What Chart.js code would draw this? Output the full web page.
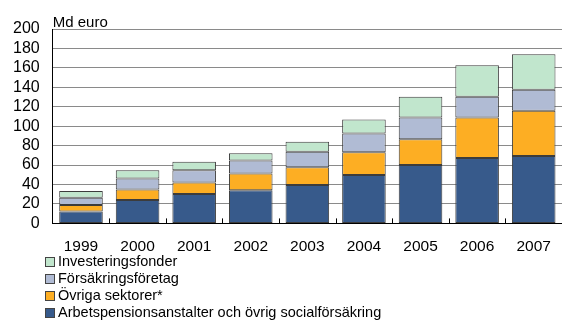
<!DOCTYPE html>
<html lang="sv">
<head>
<meta charset="UTF-8">
<title>Md euro</title>
<script src="https://cdn.jsdelivr.net/npm/chart.js"></script>
<style>
  body { margin: 0; background: #fff; font-family: "Liberation Sans", Arial, sans-serif; }
  #wrap { position: relative; width: 565px; height: 270px; }
  #legend { position: absolute; left: 0; top: 253px; margin: 0; padding: 0 0 0 45px; list-style: none; font-size: 14.5px; color: #000; }
  #legend li { height: 17px; line-height: 17px; display: flex; align-items: center; }
  #legend span.box { width: 8px; height: 8px; border: 1px solid #444; margin-right: 3px; display: inline-block; }
</style>
</head>
<body>
<div id="wrap"><canvas id="chart"></canvas></div>
<ul id="legend"></ul>

<script>
// data
const years = ['1999', '2000', '2001', '2002', '2003', '2004', '2005', '2006', '2007'];
const arbetspension = [12.2, 24, 30.3, 34, 39.4, 49.7, 60, 67.3, 69.4];
const ovriga = [6.8, 11, 11.8, 17.4, 18.4, 23.4, 26.7, 41.6, 46.6];
const forsakring = [7.5, 11.2, 12.7, 13.2, 16, 19.4, 22.2, 21.4, 21.4];
const investering = [6.9, 8.6, 8.5, 7.5, 10.2, 14.5, 21.4, 32.3, 36.6];
const yTicks = [0, 20, 40, 60, 80, 100, 120, 140, 160, 180, 200];

const fontFamily = '"Liberation Sans", Arial, sans-serif';

// small label above the y axis
const unitLabel = {
  id: 'unitLabel',
  afterDraw(chart) {
    const c = chart.ctx;
    c.save();
    c.font = '15px ' + fontFamily;
    c.fillStyle = '#000';
    c.textBaseline = 'bottom';
    c.fillText('Md euro', chart.chartArea.left, chart.chartArea.top + 1);
    c.restore();
  }
};

// short tick marks between the categories, pointing up from the x axis
const catTicks = {
  id: 'catTicks',
  afterDatasetsDraw(chart) {
    const c = chart.ctx, x = chart.scales.x, bottom = chart.chartArea.bottom;
    c.save();
    c.strokeStyle = '#000';
    c.lineWidth = 1;
    for (let i = 1; i < years.length; i++) {
      const px = Math.round((x.getPixelForValue(i - 1) + x.getPixelForValue(i)) / 2) + 0.5;
      c.beginPath();
      c.moveTo(px, bottom);
      c.lineTo(px, bottom - 5);
      c.stroke();
    }
    c.restore();
  }
};

const datasets = [
  { label: 'Arbetspensionsanstalter och övrig socialförsäkring', data: arbetspension, backgroundColor: '#375a8b' },
  { label: 'Övriga sektorer*', data: ovriga, backgroundColor: '#fdae23' },
  { label: 'Försäkringsföretag', data: forsakring, backgroundColor: '#b0bbd4' },
  { label: 'Investeringsfonder', data: investering, backgroundColor: '#c1e6cd' }
].map(d => Object.assign(d, {
  borderColor: '#3c3c3c',
  borderWidth: 1,
  borderSkipped: false,
  barPercentage: 0.77,
  categoryPercentage: 1.0
}));

new Chart(document.getElementById('chart'), {
  type: 'bar',
  data: { labels: years, datasets: datasets },
  options: {
    responsive: true,
    maintainAspectRatio: false,
    animation: false,
    layout: { padding: { top: 29, right: 1, left: 0, bottom: 0 } },
    plugins: { legend: { display: false }, tooltip: { enabled: false } },
    scales: {
      x: {
        stacked: true,
        grid: { display: false, drawTicks: false },
        border: { color: '#000', width: 1 },
        ticks: { color: '#000', font: { size: 15.5, family: fontFamily }, padding: 14, autoSkip: false, maxRotation: 0 }
      },
      y: {
        stacked: true,
        min: 0,
        max: 200,
        afterBuildTicks(axis) { axis.ticks = yTicks.map(v => ({ value: v })); },
        grid: { color: '#8a8a8a', lineWidth: 1, drawTicks: false },
        border: { color: '#000', width: 1 },
        ticks: { color: '#000', font: { size: 16, family: fontFamily }, padding: 13, autoSkip: false }
      }
    }
  },
  plugins: [unitLabel, catTicks]
});

// legend as a plain list, top item = top of the stack
const legend = document.getElementById('legend');
datasets.slice().reverse().forEach(d => {
  const li = document.createElement('li');
  li.innerHTML = '<span class="box" style="background:' + d.backgroundColor + '"></span>' + d.label;
  legend.appendChild(li);
});
</script>
</body>
</html>
